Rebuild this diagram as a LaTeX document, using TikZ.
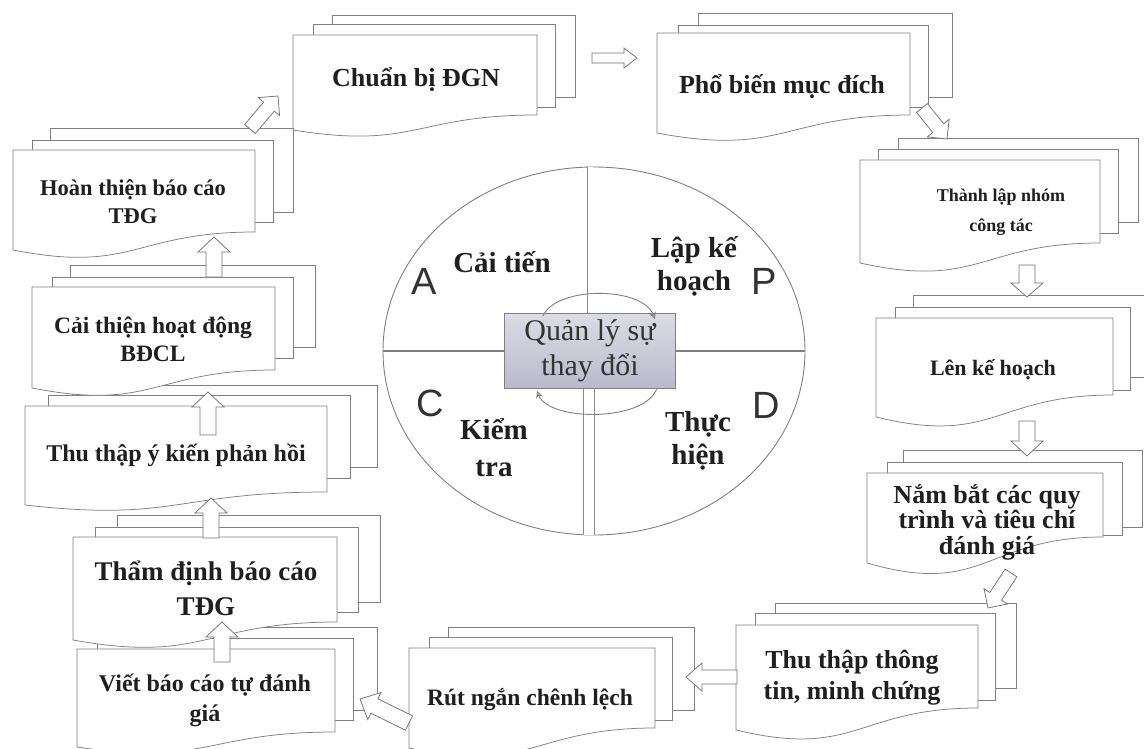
\documentclass[tikz,border=0pt]{standalone}
\usepackage{fontspec}
\setmainfont{Liberation Serif}
\newfontfamily\lettersf{Liberation Sans}
\usetikzlibrary{calc,arrows.meta,shapes.geometric}

\newcommand{\bsz}[2]{\bfseries\fontsize{#1}{#2}\selectfont}
% back sheet of a stack: x1,y1,x2,y2
\newcommand{\backpage}[4]{\draw[page] (#1,#2) rectangle (#3,#4);}
% front sheet with a wavy lower edge: x1,y1,x2,y-bottom-right,y-bottom-left
\newcommand{\frontpage}[5]{\draw[page] (#1,#2) -- (#3,#2) -- (#3,#4)
  .. controls ({(#1+#3)/2},#4) and ({(#1+#3)/2},{#4+2.32*(#5-#4)}) .. (#1,#5) -- cycle;}
% hollow block arrow: tail, tip, half body width, half head width, head length
\newcommand{\blockarrow}[5]{%
  \coordinate (hb) at ($(#2)!#5!(#1)$);
  \draw[blockarr] ($(#1)!#3!90:(#2)$) -- ($(hb)!#3!90:(#2)$) -- ($(hb)!#4!90:(#2)$)
    -- (#2) -- ($(hb)!#4!-90:(#2)$) -- ($(hb)!#3!-90:(#2)$) -- ($(#1)!#3!-90:(#2)$) -- cycle;}

\definecolor{boxtop}{HTML}{DCDCE6}
\definecolor{boxbot}{HTML}{B9B9CB}

\tikzset{
  page/.style={draw=black!50, line width=0.75pt, fill=white},
  boxtext/.style={text=black!88, align=center, inner sep=0pt},
  blockarr/.style={draw=black!55, line width=0.75pt, fill=white, line join=miter},
  quad/.style={font=\bsz{29}{33}, text=black!88, align=center, inner sep=0pt},
  pdcal/.style={font=\lettersf\fontsize{38}{38}\selectfont, text=black!80, inner sep=0pt},
  divider/.style={draw=black!50, line width=1.1pt},
  dbl/.style={draw=black!45, line width=0.7pt, double=white},
  cyc/.style={draw=black!50, line width=0.9pt, -{Stealth[length=7pt,width=7pt,open]}},
}

\begin{document}
\begin{tikzpicture}[x=1pt,y=-1pt]
\useasboundingbox (0,0) rectangle (1144,749);
\fill[white] (0,0) rectangle (1144,749);

% ---- top row ----
\backpage{332}{15}{575}{97}
\backpage{313}{24}{555}{107}
\frontpage{293}{35}{537}{115}{130}
\node[boxtext, font=\bsz{26}{30}] (cb) at (416,80) {Chuẩn bị ĐGN};

\backpage{698}{13}{952}{97}
\backpage{678}{25}{928}{107}
\frontpage{657}{33}{910}{115}{133}
\node[boxtext, font=\bsz{26}{30}] (pb) at (782,87) {Phổ biến mục đích};

% ---- right column ----
\backpage{898}{138}{1138}{222}
\backpage{878}{149}{1118}{233}
\frontpage{860}{160}{1100}{243}{263}
\node[boxtext, font=\bsz{18}{30}] (tl) at (1001,212) {Thành lập nhóm\\công tác};

\backpage{913}{295}{1150}{377}
\backpage{895}{307}{1130}{390}
\frontpage{876}{318}{1113}{395}{417}
\node[boxtext, font=\bsz{22}{26}] (lk) at (993,370) {Lên kế hoạch};

\backpage{903}{450}{1142}{527}
\backpage{887}{462}{1122}{535}
\frontpage{867}{473}{1103}{537}{563}
\node[boxtext, font=\bsz{26}{25.5}] (nb) at (987,522) {Nắm bắt các quy\\trình và tiêu chí\\đánh giá};

% ---- bottom row ----
\backpage{775}{603}{1016}{688}
\backpage{755}{613}{995}{700}
\frontpage{736}{625}{978}{708}{730}
\node[boxtext, font=\bsz{26}{31}] (tt) at (852,678) {Thu thập thông\\tin, minh chứng};

\backpage{448}{627}{694}{710}
\backpage{429}{637}{672}{720}
\frontpage{409}{648}{655}{728}{748}
\node[boxtext, font=\bsz{23.5}{28}] (rn) at (530,700) {Rút ngắn chênh lệch};

% ---- left column ----
\backpage{117}{627}{377}{710}
\backpage{97}{638}{353}{720}
\frontpage{77}{649}{335}{732}{747}
\node[boxtext, font=\bsz{24}{30}] (vb) at (205,700) {Viết báo cáo tự đánh\\giá};

\backpage{117}{515}{380}{602}
\backpage{95}{527}{358}{612}
\frontpage{73}{537}{337}{622}{640}
\node[boxtext, font=\bsz{27}{35}] (td) at (206,588) {Thẩm định báo cáo\\TĐG};

\backpage{72}{385}{377}{467}
\backpage{48}{395}{350}{478}
\frontpage{25}{406}{327}{492}{505}
\node[boxtext, font=\bsz{24}{28}] (yk) at (176,455) {Thu thập ý kiến phản hồi};

\backpage{70}{265}{315}{347}
\backpage{52}{277}{293}{358}
\frontpage{32}{287}{275}{370}{388}
\node[boxtext, font=\bsz{23.5}{28}] (ct) at (153,339) {Cải thiện hoạt động\\BĐCL};

\backpage{50}{128}{293}{212}
\backpage{32}{140}{273}{222}
\frontpage{13}{150}{255}{232}{250}
\node[boxtext, font=\bsz{22.5}{28}] (ht) at (133,202) {Hoàn thiện báo cáo\\TĐG};

% ---- PDCA wheel ----
\node[draw=black!50, line width=0.9pt, ellipse, minimum width=422pt, minimum height=368pt, inner sep=0pt] (pdca) at (594,351) {};
\node[draw=black!50, line width=0.9pt, top color=boxtop, bottom color=boxbot,
      minimum width=171pt, minimum height=75pt, inner sep=0pt, align=center,
      font=\fontsize{30}{35}\selectfont, text=black!80] (qly) at (590,351) {Quản lý sự\\thay đổi};
\draw[divider] (pdca.west) -- (qly.west);
\draw[divider] (qly.east) -- (pdca.east);
\draw[dbl, double distance=5pt] (qly.north) -- (qly.north |- pdca.north);
\draw[dbl, double distance=10pt] ([xshift=-1pt]qly.south) -- ([xshift=-1pt]qly.south |- pdca.south);

\coordinate (c1s) at (543,316);
\coordinate (c1e) at (655,319);
\coordinate (c2s) at (657,388);
\coordinate (c2e) at (537,391);
\draw[cyc] (c1s) .. controls (556,286) and (642,286) .. (c1e);
\draw[cyc] (c2s) .. controls (646,422) and (549,422) .. (c2e);

\node[quad] (qa) at (502,262) {Cải tiến};
\node[quad] (qp) at (694,266) {Lập kế\\hoạch};
\node[quad, font=\bsz{29}{37}] (qc) at (494,448) {Kiểm\\tra};
\node[quad] (qd) at (698,441) {Thực\\hiện};
\node[pdcal] (la) at (424,281) {A};
\node[pdcal] (lp) at (764,281) {P};
\node[pdcal] (lc) at (430,403) {C};
\node[pdcal] (ld) at (766,405) {D};

% ---- flow arrows ----
\coordinate (a1t) at (250,129); \coordinate (a1h) at (278,96);
\coordinate (a2t) at (592,58);  \coordinate (a2h) at (637,58);
\coordinate (a3t) at (922,108); \coordinate (a3h) at (947,139);
\coordinate (a4t) at (1027,265); \coordinate (a4h) at (1027,297);
\coordinate (a5t) at (1027,421); \coordinate (a5h) at (1027,456);
\coordinate (a6t) at (1011,573); \coordinate (a6h) at (988,608);
\coordinate (a7t) at (737,677); \coordinate (a7h) at (686,677);
\coordinate (a8t) at (409,723); \coordinate (a8h) at (360,699);
\coordinate (a9t) at (222,662); \coordinate (a9h) at (222,622);
\coordinate (a10t) at (211,538); \coordinate (a10h) at (211,498);
\coordinate (a11t) at (208,435); \coordinate (a11h) at (208,392);
\coordinate (a12t) at (214,277); \coordinate (a12h) at (214,237);

\blockarrow{a1t}{a1h}{7pt}{14pt}{14pt}
\blockarrow{a2t}{a2h}{5pt}{10pt}{13pt}
\blockarrow{a3t}{a3h}{7pt}{14pt}{14pt}
\blockarrow{a4t}{a4h}{8pt}{16pt}{14pt}
\blockarrow{a5t}{a5h}{8pt}{16pt}{15pt}
\blockarrow{a6t}{a6h}{7pt}{14pt}{14pt}
\blockarrow{a7t}{a7h}{7pt}{14pt}{16pt}
\blockarrow{a8t}{a8h}{8pt}{15pt}{16pt}
\blockarrow{a9t}{a9h}{8pt}{16pt}{15pt}
\blockarrow{a10t}{a10h}{8pt}{16pt}{15pt}
\blockarrow{a11t}{a11h}{8pt}{16pt}{15pt}
\blockarrow{a12t}{a12h}{8pt}{16pt}{15pt}
\end{tikzpicture}
\end{document}
